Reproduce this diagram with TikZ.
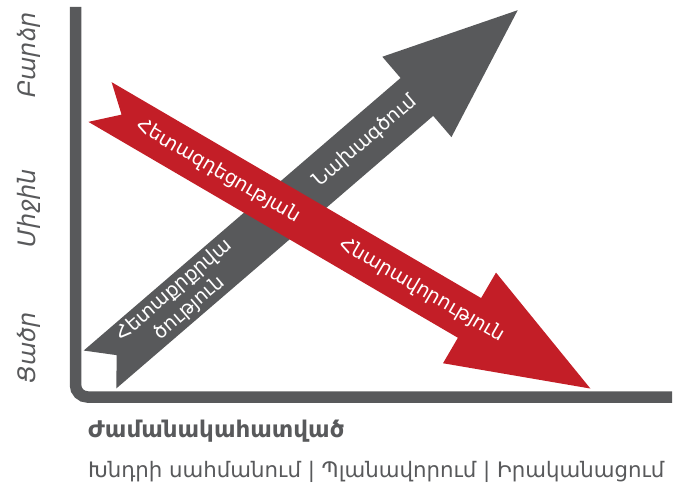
\documentclass[tikz,border=0pt]{standalone}
\usepackage{fontspec}
\setmainfont{DejaVu Sans}
\definecolor{axgray}{HTML}{58595B}
\definecolor{argray}{HTML}{58595B}
\definecolor{arred}{HTML}{C31E27}
\begin{document}
\begin{tikzpicture}[x=1pt,y=-1pt,
  ylab/.style={text=axgray,font=\fontsize{24}{28}\selectfont\itshape,rotate=90,inner sep=0pt},
  intext/.style={text=white,font=\fontsize{19.5}{24}\selectfont,inner sep=0pt,align=center}]
\useasboundingbox (0,0) rectangle (673,492);
% axes
\draw[axgray,line width=11.5pt,rounded corners=12pt] (75.5,7) -- (75.5,397) -- (672,397);
% gray arrow
\begin{scope}[shift={(100,369.5)},rotate=40.7]
\fill[argray] (0,-25) -- (418,-25) -- (418,-53) -- (551,0) -- (418,53) -- (418,25) -- (0,25) -- (22,0) -- cycle;
\coordinate (g1) at (350,0);
\coordinate (g2) at (108,0);
\end{scope}
% red arrow
\begin{scope}[shift={(100,102)},rotate=-30.3]
\fill[arred] (0,-23) -- (428,-23) -- (428,-52.5) -- (568,0) -- (428,52.5) -- (428,23) -- (0,23) -- (25,0) -- cycle;
\coordinate (r1) at (137,0);
\coordinate (r2) at (373,0);
\end{scope}
\node[intext,rotate=40.7] (tg1) at (g1) {Նախագծում};
\node[intext,rotate=40.7] (tg2) at (g2) {Հետաքրքրվա\\ծություն};
\node[intext,rotate=-30.3] (tr1) at (r1) {Հետազդեցության};
\node[intext,rotate=-30.3] (tr2) at (r2) {Հնարավորություն};
% y labels
\node[ylab] (yb) at (29,55) {Բարձր};
\node[ylab] (ym) at (29,208) {Միջին};
\node[ylab] (yc) at (29,348) {Ցածր};
% x labels
\node[anchor=west,text=axgray,font=\fontsize{23}{27}\selectfont\bfseries,inner sep=0pt] (xl) at (88,431) {Ժամանակահատված};
\node[anchor=west,text=axgray,font=\fontsize{21.3}{25}\selectfont,inner sep=0pt] (xs) at (88,472) {Խնդրի սահմանում | Պլանավորում | Իրականացում};
\end{tikzpicture}
\end{document}
